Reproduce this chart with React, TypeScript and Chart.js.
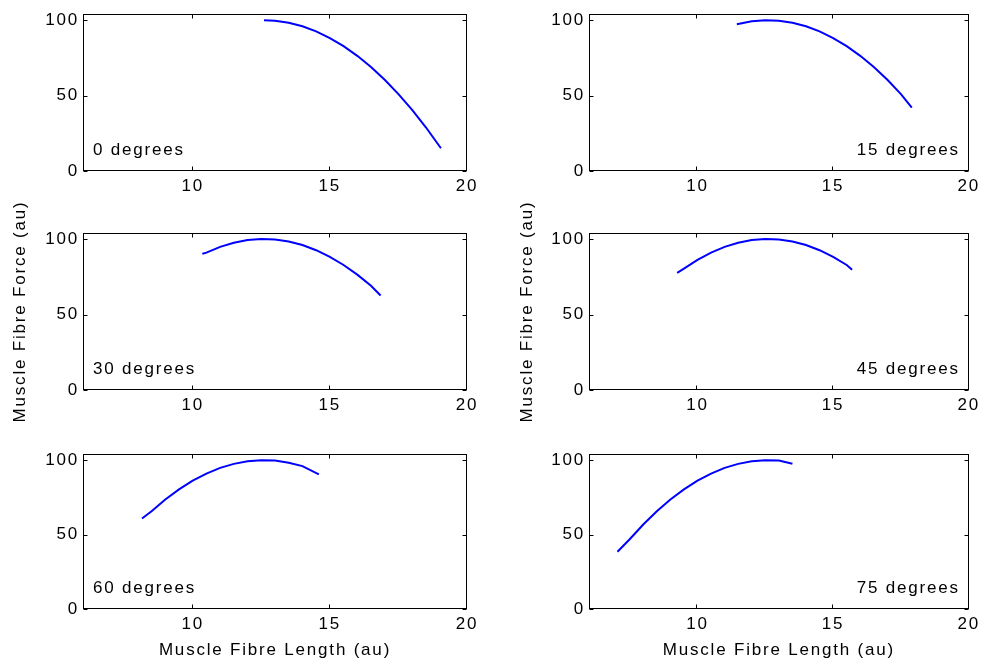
import React, { useEffect, useRef } from 'react';
import { Chart, registerables } from 'chart.js';

Chart.register(...registerables);

// ---- Data ----
const X_TICKS = [10, 15, 20];
const Y_TICKS = [0, 50, 100];
const X_MIN = 6;
const X_MAX = 20;
const Y_MIN = 0;
const Y_MAX = 104;

const X_TITLE = 'Muscle Fibre Length (au)';
const Y_TITLE = 'Muscle Fibre Force (au)';

const PANEL_LABELS = ['0 degrees', '15 degrees', '30 degrees', '45 degrees', '60 degrees', '75 degrees'];

const LEN_0 = [12.6, 13.0, 13.5, 14.0, 14.5, 15.0, 15.5, 16.0, 16.5, 17.0, 17.5, 18.0, 18.5, 19.05];
const FORCE_0 = [100, 99.7, 98.3, 96.0, 92.6, 88.2, 82.8, 76.4, 69.0, 60.5, 51.0, 40.5, 29.0, 15.1];

const LEN_15 = [11.45, 12.0, 12.5, 13.0, 13.5, 14.0, 14.5, 15.0, 15.5, 16.0, 16.5, 17.0, 17.5, 17.9];
const FORCE_15 = [97.3, 99.3, 100, 99.7, 98.3, 96.0, 92.6, 88.2, 82.8, 76.4, 69.0, 60.5, 51.0, 42.0];

const LEN_30 = [10.35, 10.5, 11.0, 11.5, 12.0, 12.5, 13.0, 13.5, 14.0, 14.5, 15.0, 15.5, 16.0, 16.5, 16.85];
const FORCE_30 = [90.2, 91.0, 94.8, 97.5, 99.3, 100, 99.7, 98.3, 96.0, 92.6, 88.2, 82.8, 76.4, 69.0, 62.6];

const LEN_45 = [9.25, 9.5, 10.0, 10.5, 11.0, 11.5, 12.0, 12.5, 13.0, 13.5, 14.0, 14.5, 15.0, 15.5, 15.7];
const FORCE_45 = [77.6, 80.4, 86.2, 91.0, 94.8, 97.5, 99.3, 100, 99.7, 98.3, 96.0, 92.6, 88.2, 82.8, 79.6];

const LEN_60 = [8.15, 8.5, 9.0, 9.5, 10.0, 10.5, 11.0, 11.5, 12.0, 12.5, 13.0, 13.5, 14.0, 14.6];
const FORCE_60 = [60.8, 65.7, 73.6, 80.4, 86.2, 91.0, 94.8, 97.5, 99.3, 100, 99.7, 98.3, 96.0, 90.5];

const LEN_75 = [7.05, 7.5, 8.0, 8.5, 9.0, 9.5, 10.0, 10.5, 11.0, 11.5, 12.0, 12.5, 13.0, 13.5];
const FORCE_75 = [38.5, 46.9, 56.8, 65.7, 73.6, 80.4, 86.2, 91.0, 94.8, 97.5, 99.3, 100, 99.7, 97.6];

const SERIES_LEN = [LEN_0, LEN_15, LEN_30, LEN_45, LEN_60, LEN_75];
const SERIES_FORCE = [FORCE_0, FORCE_15, FORCE_30, FORCE_45, FORCE_60, FORCE_75];

// ---- Styling ----
const FONT = '"Liberation Sans", Arial, Helvetica, sans-serif';
const FONT_SIZE = 17;
const LETTER_SPACING = '1.8px';
const LINE_COLOR = '#0000ff';

const setSpacing = (chart: any) => {
  try {
    (chart.ctx as any).letterSpacing = LETTER_SPACING;
  } catch (e) {
    /* ignore */
  }
};

const boxPlugin = {
  id: 'matlabBox',
  beforeInit(chart: any) { setSpacing(chart); },
  beforeUpdate(chart: any) { setSpacing(chart); },
  beforeLayout(chart: any) { setSpacing(chart); },
  beforeDraw(chart: any) { setSpacing(chart); },
  afterDraw(chart: any, _args: any, opts: any) {
    const { ctx, chartArea: a, scales } = chart;
    ctx.save();
    ctx.strokeStyle = '#000';
    ctx.lineWidth = 1;
    const l = Math.round(a.left) + 0.5;
    const t = Math.round(a.top) + 0.5;
    const r = Math.round(a.right) - 0.5;
    const b = Math.round(a.bottom) - 0.5;
    ctx.strokeRect(l, t, r - l, b - t);
    const TL = 4;
    ctx.beginPath();
    X_TICKS.forEach((v) => {
      const px = Math.round(scales.x.getPixelForValue(v)) - 0.5;
      ctx.moveTo(px, b);
      ctx.lineTo(px, b - TL);
      ctx.moveTo(px, t);
      ctx.lineTo(px, t + TL);
    });
    Y_TICKS.forEach((v) => {
      const py = Math.round(scales.y.getPixelForValue(v)) + 0.5;
      ctx.moveTo(l, py);
      ctx.lineTo(l + TL, py);
      ctx.moveTo(r, py);
      ctx.lineTo(r - TL, py);
    });
    ctx.stroke();

    if (opts && opts.text) {
      ctx.letterSpacing = LETTER_SPACING;
      ctx.font = `${FONT_SIZE}px ${FONT}`;
      ctx.fillStyle = '#000';
      ctx.textBaseline = 'middle';
      const y = a.bottom - 21;
      if (opts.side === 'left') {
        ctx.textAlign = 'left';
        ctx.fillText(opts.text, a.left + 10, y);
      } else {
        ctx.textAlign = 'right';
        ctx.fillText(opts.text, a.right - 9, y);
      }
    }
    ctx.restore();
  },
};

type PanelProps = {
  index: number;
  left: number;
  top: number;
  width: number;
  height: number;
  yAxisWidth: number;
  xAxisHeight: number;
  padTop: number;
  padRight: number;
  labelSide: 'left' | 'right';
  showXTitle: boolean;
  showYTitle: boolean;
  yTitlePad: number;
};

function Panel(p: PanelProps) {
  const ref = useRef<HTMLCanvasElement | null>(null);
  useEffect(() => {
    const canvas = ref.current;
    if (!canvas) return;
    const data = SERIES_LEN[p.index].map((x, i) => ({ x, y: SERIES_FORCE[p.index][i] }));
    const tickFont = { family: FONT, size: FONT_SIZE };
    const chart = new Chart(canvas, {
      type: 'line',
      data: {
        datasets: [
          {
            data,
            borderColor: LINE_COLOR,
            borderWidth: 2,
            pointRadius: 0,
            tension: 0,
            fill: false,
          },
        ],
      },
      options: {
        animation: false,
        responsive: false,
        maintainAspectRatio: false,
        devicePixelRatio: 1,
        layout: { padding: { top: p.padTop, right: p.padRight, left: 0, bottom: 0 } },
        plugins: {
          legend: { display: false },
          tooltip: { enabled: false },
          matlabBox: { text: PANEL_LABELS[p.index], side: p.labelSide },
        } as any,
        scales: {
          x: {
            type: 'linear',
            min: X_MIN,
            max: X_MAX,
            grid: { display: false, drawTicks: false },
            border: { display: false },
            ticks: { font: tickFont, color: '#000', padding: 5, maxRotation: 0, autoSkip: false },
            afterBuildTicks: (s: any) => {
              s.ticks = X_TICKS.map((v) => ({ value: v }));
            },
            afterFit: (s: any) => {
              s.height = p.xAxisHeight;
            },
            title: {
              display: p.showXTitle,
              text: X_TITLE,
              color: '#000',
              font: tickFont,
              padding: { top: 0, bottom: 2 },
            },
          },
          y: {
            type: 'linear',
            min: Y_MIN,
            max: Y_MAX,
            grid: { display: false, drawTicks: false },
            border: { display: false },
            ticks: { font: tickFont, color: '#000', padding: 4, autoSkip: false },
            afterBuildTicks: (s: any) => {
              s.ticks = Y_TICKS.map((v) => ({ value: v }));
            },
            afterFit: (s: any) => {
              s.width = p.yAxisWidth;
            },
            title: {
              display: p.showYTitle,
              text: Y_TITLE,
              color: '#000',
              font: tickFont,
              padding: { top: p.yTitlePad, bottom: 0 },
            },
          },
        },
      } as any,
      plugins: [boxPlugin as any],
    });
    return () => chart.destroy();
  }, []);
  return (
    <canvas
      ref={ref}
      width={p.width}
      height={p.height}
      style={{ position: 'absolute', left: p.left, top: p.top, width: p.width, height: p.height }}
    />
  );
}

// Middle row canvas extends upward (transparent overlap) so its axis title is not clipped.
const ROWS = [
  { top: 0, height: 220, padTop: 13, xAxisHeight: 49 },
  { top: 180, height: 260, padTop: 53, xAxisHeight: 50 },
  { top: 440, height: 223, padTop: 12, xAxisHeight: 54 },
];

const COLS = [
  { left: 0, width: 490, yAxisWidth: 83, padRight: 23, labelSide: 'left' as const, yTitlePad: 10 },
  { left: 490, width: 495, yAxisWidth: 99, padRight: 13, labelSide: 'right' as const, yTitlePad: 27 },
];

export default function App() {
  const panels: PanelProps[] = [];
  ROWS.forEach((r, ri) => {
    COLS.forEach((c, ci) => {
      panels.push({
        index: ri * 2 + ci,
        left: c.left,
        top: r.top,
        width: c.width,
        height: r.height,
        yAxisWidth: c.yAxisWidth,
        xAxisHeight: r.xAxisHeight,
        padTop: r.padTop,
        padRight: c.padRight,
        labelSide: c.labelSide,
        showXTitle: ri === 2,
        showYTitle: ri === 1,
        yTitlePad: c.yTitlePad,
      });
    });
  });
  return (
    <div
      style={{
        position: 'fixed',
        left: 0,
        top: 0,
        width: 985,
        height: 663,
        background: '#fff',
        overflow: 'hidden',
      }}
    >
      {panels.map((pp) => (
        <Panel key={pp.index} {...pp} />
      ))}
    </div>
  );
}
